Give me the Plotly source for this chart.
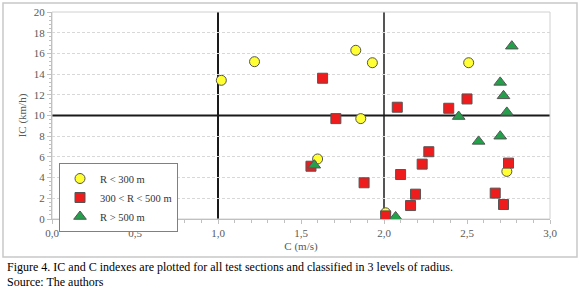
import plotly.graph_objects as go

# R < 300 m
c_small = [1.02, 1.22, 1.83, 1.93, 1.86, 1.60, 2.01, 2.51, 2.74]
ic_small = [13.4, 15.2, 16.3, 15.1, 9.7, 5.8, 0.6, 15.1, 4.6]

# 300 < R < 500 m
c_mid = [1.63, 1.71, 1.56, 1.88, 2.01, 2.08, 2.10, 2.16, 2.19, 2.23, 2.27, 2.39, 2.50, 2.67, 2.72, 2.75]
ic_mid = [13.6, 9.7, 5.1, 3.5, 0.3, 10.8, 4.3, 1.3, 2.4, 5.3, 6.5, 10.7, 11.6, 2.5, 1.4, 5.4]

# R > 500 m
c_large = [1.58, 2.07, 2.57, 2.70, 2.45, 2.74, 2.72, 2.70, 2.77]
ic_large = [5.2, 0.2, 7.5, 8.0, 9.9, 10.3, 11.9, 13.2, 16.7]

series_names = ["R < 300 m", "300 < R < 500 m", "R > 500 m"]
caption_lines = ["Figure 4. IC and C indexes are plotted for all test sections and classified in 3 levels of radius.",
                 "Source: The authors"]
grid_values = [2, 4, 6, 8, 12, 14, 16, 18]

FONT = "Liberation Serif, Times New Roman, serif"

fig = go.Figure()
# empty helper trace so the grid-only overlay axis is drawn
fig.add_trace(go.Scatter(x=[None], y=[None], yaxis="y2", showlegend=False, hoverinfo="skip"))
fig.add_trace(go.Scatter(x=c_small, y=ic_small, mode="markers", name=series_names[0],
                         marker=dict(symbol="circle", size=10, color="#ffff33",
                                     line=dict(color="#555555", width=1))))
fig.add_trace(go.Scatter(x=c_mid, y=ic_mid, mode="markers", name=series_names[1],
                         marker=dict(symbol="square", size=10, color="#ee1c1c",
                                     line=dict(color="#555555", width=1))))
fig.add_trace(go.Scatter(x=c_large, y=ic_large, mode="markers", name=series_names[2],
                         marker=dict(symbol="triangle-up", size=11, color="#22a04a",
                                     line=dict(color="#555555", width=1))))

# reference lines
fig.add_shape(type="line", xref="x", yref="paper", x0=1, x1=1, y0=0, y1=1,
              line=dict(color="#1a1a1a", width=2), layer="between")
fig.add_shape(type="line", xref="x", yref="paper", x0=2, x1=2, y0=0, y1=1,
              line=dict(color="#555555", width=2), layer="between")
fig.add_shape(type="line", xref="paper", yref="y", x0=0, x1=1, y0=10, y1=10,
              line=dict(color="#1a1a1a", width=2), layer="between")
# plot area border
fig.add_shape(type="rect", xref="paper", yref="paper", x0=0, x1=1, y0=0, y1=1,
              line=dict(color="#d0d0d0", width=1), layer="below")
# outer frame
fig.add_shape(type="rect", xref="paper", yref="paper", x0=-0.0984, x1=1.0542, y0=-0.1836, y1=1.0435,
              line=dict(color="#c8c8c8", width=1.5), layer="below")

for i, line in enumerate(caption_lines):
    fig.add_annotation(text=line, xref="paper", yref="paper", x=-0.094, y=-0.232 - i * 0.072,
                       xanchor="left", yanchor="middle", showarrow=False,
                       font=dict(family=FONT, size=12, color="#000000"))

fig.update_layout(
    width=580, height=288,
    margin=dict(l=52, r=30, t=12, b=69, autoexpand=False),
    separators=",.",
    paper_bgcolor="white", plot_bgcolor="white",
    font=dict(family=FONT, size=11, color="#595959"),
    showlegend=True,
    legend=dict(x=(59 - 52) / 498, y=(219 - 163) / 207, xanchor="left", yanchor="top",
                bgcolor="white", bordercolor="#808080", borderwidth=1,
                font=dict(family=FONT, size=10.5, color="#333333"),
                itemwidth=30),
    xaxis=dict(range=[0, 3], tickmode="linear", tick0=0, dtick=0.5, tickformat=".1f",
               showgrid=False, zeroline=False, showline=True, linecolor="#c0c0c0",
               ticks="outside", ticklen=4, tickcolor="#c0c0c0", automargin=False,
               minor=dict(dtick=0.1, ticks="outside", ticklen=3, tickcolor="#c0c0c0"),
               title=dict(text="C (m/s)", font=dict(size=11, color="#595959"), standoff=4),
               tickfont=dict(size=11, color="#595959")),
    yaxis=dict(range=[0, 20], tickmode="linear", tick0=0, dtick=2,
               showgrid=False, zeroline=False, showline=True, linecolor="#c0c0c0",
               ticks="outside", ticklen=4, tickcolor="#c0c0c0", automargin=False,
               minor=dict(dtick=0.4, ticks="outside", ticklen=2, tickcolor="#c0c0c0", showgrid=False),
               title=dict(text="IC (km/h)", font=dict(size=11, color="#595959"), standoff=4),
               tickfont=dict(size=11, color="#595959")),
    yaxis2=dict(range=[0, 20], overlaying="y", side="left", tickmode="array", tickvals=grid_values,
                showticklabels=False, ticks="", showline=False, zeroline=False, automargin=False,
                showgrid=True, gridcolor="#d8d8d8", griddash="3px,2px", gridwidth=1),
)

fig.write_html("out.html", config={"displayModeBar": False},
               post_script="document.body.style.margin='0';document.body.style.overflow='hidden';")
